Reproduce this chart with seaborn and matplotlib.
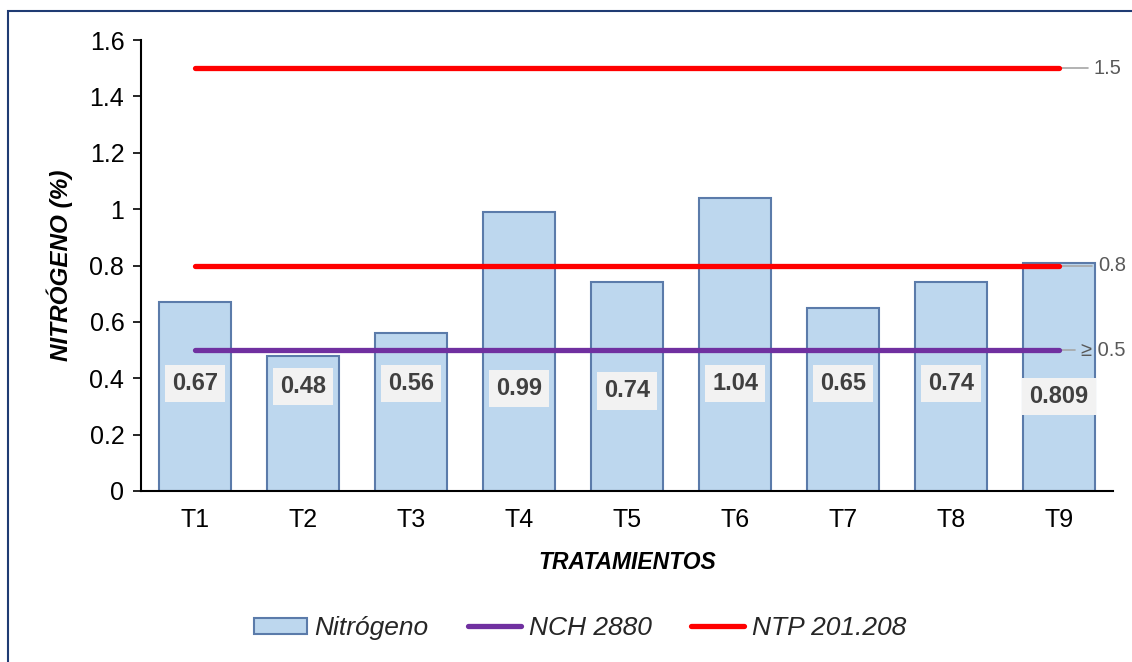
import matplotlib
matplotlib.use("Agg")
import matplotlib.pyplot as plt
import seaborn as sns
import pandas as pd
from matplotlib.patches import Rectangle, Patch
from matplotlib.lines import Line2D

# ---- data ----
categories = ["T1", "T2", "T3", "T4", "T5", "T6", "T7", "T8", "T9"]
nitrogeno = [0.67, 0.48, 0.56, 0.99, 0.74, 1.04, 0.65, 0.74, 0.809]
bar_labels = ["0.67", "0.48", "0.56", "0.99", "0.74", "1.04", "0.65", "0.74", "0.809"]
nch_2880 = 0.5
ntp_201208 = [0.8, 1.5]
yticks = [0, 0.2, 0.4, 0.6, 0.8, 1.0, 1.2, 1.4, 1.6]
ytick_labels = ["0", "0.2", "0.4", "0.6", "0.8", "1", "1.2", "1.4", "1.6"]

sns.set_theme(style="white")
plt.rcParams["font.family"] = ["Liberation Sans", "DejaVu Sans"]

BAR_FILL = "#BDD7EE"
BAR_EDGE = "#5B7BAA"
PURPLE = "#7030A0"
RED = "#FF0000"
GREY = "#A6A6A6"

fig = plt.figure(figsize=(11.32, 6.62), dpi=100)
ax = fig.add_axes([141/1132, 1-491/662, (1113-141)/1132, (491-40)/662])

df = pd.DataFrame({"Tratamiento": categories, "Nitrogeno": nitrogeno})
sns.barplot(data=df, x="Tratamiento", y="Nitrogeno", ax=ax, color=BAR_FILL,
            saturation=1, width=0.67, edgecolor=BAR_EDGE, linewidth=1.5, zorder=2)

n = len(categories)
# reference lines
ax.hlines(nch_2880, 0, n-1, color=PURPLE, lw=3.8, zorder=4, capstyle="round")
for v in ntp_201208:
    ax.hlines(v, 0, n-1, color=RED, lw=3.8, zorder=4, capstyle="round")

# leader lines + labels at right
leaders = [(1.5, 0.27, "1.5"), (0.8, 0.31, "0.8"), (0.5, 0.15, "≥ 0.5")]
for y, L, txt in leaders:
    ax.plot([n-1, n-1+L], [y, y], color=GREY, lw=1.2, zorder=3, clip_on=False)
    ax.text(n-1+L+0.05, y, txt, va="center", ha="left", fontsize=14.5,
            color="#595959", clip_on=False)

# bar data labels
label_y = [0.38, 0.37, 0.38, 0.365, 0.355, 0.38, 0.38, 0.38, 0.335]
for i, (lab, yy) in enumerate(zip(bar_labels, label_y)):
    ax.text(i, yy, lab, ha="center", va="center", fontsize=17, fontweight="bold",
            color="#404040", zorder=5,
            bbox=dict(boxstyle="square,pad=0.3", fc="#F2F2F2", ec="none"))

ax.set_xlim(-0.5, n-0.5)
ax.set_ylim(0, 1.6)
ax.set_yticks(yticks)
ax.set_yticklabels(ytick_labels)
ax.tick_params(axis="y", which="both", left=True, length=6, width=1.2,
               color="black", labelsize=18, labelcolor="black", pad=6)
ax.tick_params(axis="x", length=0, labelsize=18, labelcolor="black", pad=12)
for s in ["top", "right"]:
    ax.spines[s].set_visible(False)
for s in ["left", "bottom"]:
    ax.spines[s].set_color("black")
    ax.spines[s].set_linewidth(1.5)
ax.set_xlabel("TRATAMIENTOS", fontsize=16.5, fontweight="bold", style="italic",
              color="black", labelpad=14)
ax.set_ylabel("NITRÓGENO (%)", fontsize=17.5, fontweight="bold", style="italic",
              color="black", labelpad=12)

handles = [
    Patch(facecolor=BAR_FILL, edgecolor=BAR_EDGE, linewidth=1.5),
    Line2D([0], [0], color=PURPLE, lw=3.8, solid_capstyle="round"),
    Line2D([0], [0], color=RED, lw=3.8, solid_capstyle="round"),
]
leg = fig.legend(handles, ["Nitrógeno", "NCH 2880", "NTP 201.208"],
                 loc="center", bbox_to_anchor=(580/1132, 1-628/662), ncol=3,
                 frameon=False, prop={"size": 19, "style": "italic"},
                 handlelength=2.0, handleheight=0.55, columnspacing=1.5,
                 handletextpad=0.3)

# figure border
fig.patches.append(Rectangle((8/1132, -0.05), 1.1, 1-11/662+0.05,
                             transform=fig.transFigure, fill=False,
                             ec="#1F3B73", lw=1.5))

fig.savefig("out.png", dpi=100)
